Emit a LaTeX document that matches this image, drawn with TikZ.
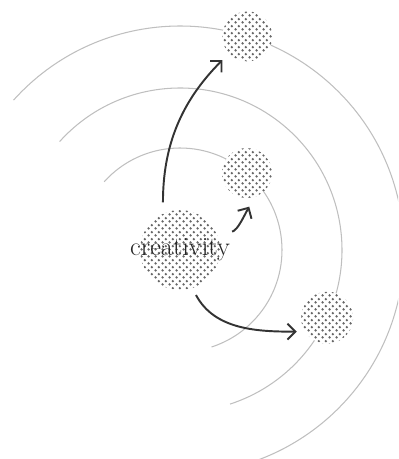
\documentclass[tikz,border=0pt]{standalone}
\usetikzlibrary{arrows.meta,patterns.meta}

% halftone dots, staggered grid
\pgfdeclarepattern{
  name=halfdots, type=uncolored,
  bottom left={\pgfpoint{0pt}{0pt}}, top right={\pgfpoint{3.8pt}{3.8pt}},
  tile size={\pgfpoint{3.8pt}{3.8pt}},
  code={
    \pgfpathcircle{\pgfpoint{0.95pt}{0.95pt}}{0.75pt}
    \pgfpathcircle{\pgfpoint{2.85pt}{2.85pt}}{0.75pt}
    \pgfusepath{fill}
  }
}

\tikzset{
  orbit/.style={gray!50, line width=0.6pt},
  halftone/.style={circle, preaction={fill=white}, pattern=halfdots,
                   pattern color=black!60, inner sep=0pt},
  leap/.style={black!80, line width=1.1pt,
               -{Straight Barb[length=1.6mm,width=3.2mm]}}
}

\begin{document}
\begin{tikzpicture}

% =====================================================================
% Frame (reference proportions), origin at the centre of "creativity"
% =====================================================================
\useasboundingbox (-3.6,-4.18) rectangle (4.36,5.0);
\clip (-3.6,-4.18) rectangle (4.36,5.0);

% =====================================================================
% Concentric orbits around the central idea
% =====================================================================
\foreach \rr in {2.04, 3.24, 4.48}{
  \draw[orbit] (138:\rr) arc[start angle=138, end angle=-72, radius=\rr];
}

% =====================================================================
% Central idea and the three outcomes sitting on the orbits
% =====================================================================
\node[halftone, minimum size=1.6cm] (creativity) at (0,0) {};
\node[font=\fontsize{15}{18}\selectfont, text=black!85] (word)
  at (creativity) {creativity};

% near     r=2.04   angle=49
\node[halftone, minimum size=1.0cm] (near) at (49:2.04) {};
% middle   r=3.24   angle=-25
\node[halftone, minimum size=1.04cm] (mid) at (-24.7:3.24) {};
% far      r=4.48   angle=72.5
\node[halftone, minimum size=1.0cm] (far) at (72.5:4.48) {};

% =====================================================================
% Jumps outward
% =====================================================================
\draw[leap, shorten <=0.22cm, shorten >=0.18cm]
  (creativity.115) to[out=90, in=225] (far.223);
\draw[leap, shorten <=0.3cm, shorten >=0.22cm]
  (creativity.21) to[out=15, in=240] (near.-72);
\draw[leap, shorten <=0.15cm, shorten >=0.16cm]
  (creativity.-72) to[out=-62, in=180] (mid.212);

\end{tikzpicture}
\end{document}
